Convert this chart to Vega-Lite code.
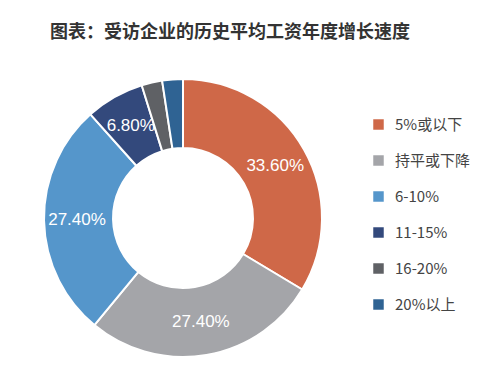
{
  "$schema": "https://vega.github.io/schema/vega-lite/v6.json",
  "autosize": {"type": "none"},
  "padding": {"left": 0, "top": 80, "right": 132, "bottom": 33},
  "width": 366,
  "height": 276,
  "background": "white",
  "title": {
    "text": "图表：受访企业的历史平均工资年度增长速度",
    "anchor": "start",
    "dx": 50,
    "offset": 33,
    "fontSize": 18,
    "fontWeight": "bold",
    "color": "#333333",
    "font": "Noto Sans CJK SC"
  },
  "data": {
    "values": [
      {"category": "5%或以下", "value": 33.6, "order": 1, "label": "33.60%"},
      {"category": "持平或下降", "value": 27.4, "order": 2, "label": "27.40%"},
      {"category": "6-10%", "value": 27.4, "order": 3, "label": "27.40%"},
      {"category": "11-15%", "value": 6.8, "order": 4, "label": "6.80%"},
      {"category": "16-20%", "value": 2.4, "order": 5, "label": ""},
      {"category": "20%以上", "value": 2.4, "order": 6, "label": ""}
    ]
  },
  "encoding": {
    "theta": {"field": "value", "type": "quantitative", "stack": true},
    "order": {"field": "order", "type": "quantitative"},
    "color": {
      "field": "category",
      "type": "nominal",
      "sort": ["5%或以下", "持平或下降", "6-10%", "11-15%", "16-20%", "20%以上"],
      "scale": {
        "domain": ["5%或以下", "持平或下降", "6-10%", "11-15%", "16-20%", "20%以上"],
        "range": ["#CF6848", "#A4A5A9", "#5596CB", "#33497C", "#5F6165", "#2F6393"]
      },
      "legend": {
        "title": null,
        "orient": "none",
        "legendX": 371,
        "legendY": 37,
        "symbolType": "square",
        "symbolSize": 110,
        "symbolStrokeWidth": 0,
        "labelFontSize": 15,
        "labelColor": "#444444",
        "labelFont": "Noto Sans CJK SC",
        "labelOffset": 9,
        "rowPadding": 20
      }
    }
  },
  "layer": [
    {
      "mark": {"type": "arc", "outerRadius": 139, "innerRadius": 70, "stroke": "white", "strokeWidth": 2}
    },
    {
      "mark": {"type": "text", "radius": 106, "fontSize": 17, "fill": "white", "font": "Liberation Sans"},
      "encoding": {
        "text": {"field": "label", "type": "nominal"},
        "color": {"value": "white"}
      }
    }
  ]
}
